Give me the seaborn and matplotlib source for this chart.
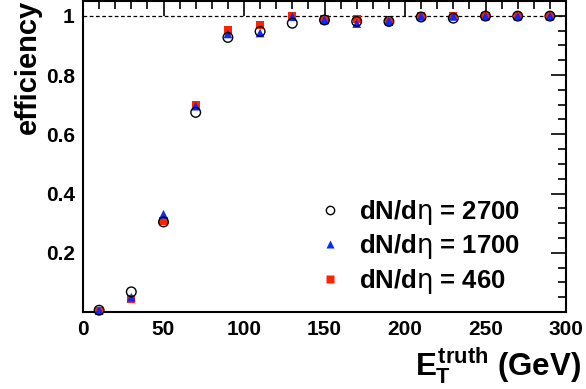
import numpy as np
import pandas as pd
import seaborn as sns
import matplotlib.pyplot as plt
from matplotlib.lines import Line2D
from matplotlib.ticker import MultipleLocator, FuncFormatter

# E_T^truth bin centres (GeV)
et_truth = [10, 30, 50, 70, 90, 110, 130, 150, 170, 190, 210, 230, 250, 270, 290]

# efficiency for each multiplicity
eff_2700 = [0.006, 0.068, 0.304, 0.674, 0.927, 0.947, 0.975, 0.986, 0.981, 0.981, 0.996, 0.992, 0.999, 0.999, 0.999]
eff_1700 = [0.006, 0.050, 0.330, 0.695, 0.939, 0.942, 0.997, 0.986, 0.974, 0.983, 0.998, 0.998, 0.999, 0.999, 0.999]
eff_460 = [0.004, 0.043, 0.307, 0.700, 0.950, 0.970, 0.998, 0.988, 0.989, 0.980, 1.000, 1.000, 1.000, 1.000, 1.000]

labels = ["dN/d$\\mathrm{\\eta}$ = 2700", "dN/d$\\mathrm{\\eta}$ = 1700", "dN/d$\\mathrm{\\eta}$ = 460"]

red = "#ff2200"
blue = "#0a2aff"

sns.set_style("white")
plt.rcParams["font.family"] = ["Liberation Sans", "DejaVu Sans"]
plt.rcParams["font.weight"] = "bold"
plt.rcParams["text.color"] = "black"
plt.rcParams["xtick.color"] = "black"
plt.rcParams["ytick.color"] = "black"
plt.rcParams["mathtext.fontset"] = "custom"
plt.rcParams["mathtext.rm"] = "DejaVu Sans:normal"
plt.rcParams["mathtext.it"] = "Liberation Sans:bold"
plt.rcParams["mathtext.bf"] = "Liberation Sans:bold"

df = pd.DataFrame({"et": et_truth, "e2700": eff_2700, "e1700": eff_1700, "e460": eff_460})

fig = plt.figure(figsize=(5.86, 3.89), dpi=100)
ax = fig.add_axes([83 / 586, 1 - 312 / 389, (566 - 83) / 586, 311 / 389])

ax.plot([0, 300], [1, 1], color="black", lw=0.9, ls=(0, (3, 2)), zorder=1)

# squares first, then triangles, open circles on top
sns.scatterplot(data=df, x="et", y="e460", marker="s", s=36, color=red, edgecolor="none",
                ax=ax, zorder=3, clip_on=False)
sns.scatterplot(data=df, x="et", y="e1700", marker="^", s=40, color=blue, edgecolor="none",
                ax=ax, zorder=4, clip_on=False)
sns.scatterplot(data=df, x="et", y="e2700", marker="o", s=48, facecolor="none", edgecolor="black",
                linewidth=1.0, ax=ax, zorder=5, clip_on=False)

ax.set_xlim(0, 300)
ax.set_ylim(0, 1.05)
ax.set_xlabel("")
ax.set_ylabel("")

ax.xaxis.set_major_locator(MultipleLocator(50))
ax.xaxis.set_minor_locator(MultipleLocator(10))
ax.yaxis.set_major_locator(MultipleLocator(0.2))
ax.yaxis.set_minor_locator(MultipleLocator(0.05))
ax.yaxis.set_major_formatter(FuncFormatter(lambda v, p: "" if abs(v) < 1e-9 else ("1" if abs(v - 1) < 1e-9 else f"{v:.1f}")))

ax.tick_params(which="both", direction="in", top=True, right=True, width=1.2, color="black",
               labelcolor="black", labelsize=15)
ax.tick_params(which="major", length=11, pad=6)
ax.tick_params(which="minor", length=5.5)
for lab in ax.get_xticklabels() + ax.get_yticklabels():
    lab.set_fontweight("bold")
for sp in ax.spines.values():
    sp.set_linewidth(1.5)
    sp.set_color("black")

fig.text(14 / 586, 1.0, "efficiency", rotation=90, ha="left", va="top", fontsize=21, fontweight="bold")
fig.text(581 / 586, 3 / 389, "$E_T^{truth}$ (GeV)", ha="right", va="bottom", fontsize=22.5, fontweight="bold")

handles = [
    Line2D([], [], marker="o", ls="", mfc="none", mec="black", mew=1.0, ms=6),
    Line2D([], [], marker="^", ls="", mfc=blue, mec="none", ms=6),
    Line2D([], [], marker="s", ls="", mfc=red, mec="none", ms=6),
]
ax.legend(handles, labels, loc="lower left", bbox_to_anchor=(216 / 483, -2 / 311), frameon=False,
          prop={"size": 18.5, "weight": "bold"}, handlelength=1.0, handletextpad=0.65,
          labelspacing=0.22, borderpad=0.2)

fig.savefig("out.png", dpi=100)
